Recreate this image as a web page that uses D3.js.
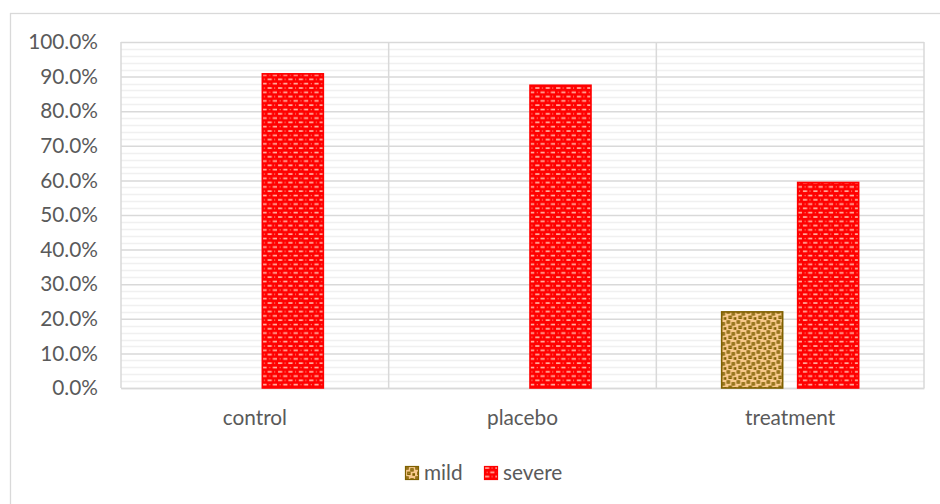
<!DOCTYPE html>
<html>
<head>
<meta charset="utf-8">
<script src="https://cdn.jsdelivr.net/npm/d3@7"></script>
<style>
  html, body { margin: 0; padding: 0; background: #fff; }
  svg { display: block; font-family: Lato, "Open Sans", sans-serif; }
</style>
</head>
<body>
<svg id="chart" width="940" height="504"></svg>
<script>
// Share of each group in the mild / severe class
const categories = ["control", "placebo", "treatment"];
const seriesNames = ["mild", "severe"];
const mildValues = [0, 0, 0.22];
const severeValues = [0.908, 0.875, 0.594];
const yTicks = [0, 0.1, 0.2, 0.3, 0.4, 0.5, 0.6, 0.7, 0.8, 0.9, 1.0];

const svg = d3.select("#chart");
const plot = { left: 121, right: 924, top: 42, bottom: 388 };
const FONT = 20.8;
const TEXT = "#5a5a5a";

// Fill patterns
const defs = svg.append("defs");
const pSevere = defs.append("pattern")
  .attr("id", "pat-severe").attr("patternUnits", "userSpaceOnUse")
  .attr("width", 10.4).attr("height", 8.6);
pSevere.append("rect").attr("width", 10.4).attr("height", 8.6).attr("fill", "#ff0000");
[[1, 1.2, 4.2], [6.2, 5.5, 4.2]].forEach(([x, y, w]) =>
  pSevere.append("rect").attr("x", x).attr("y", y).attr("width", w).attr("height", 1.6)
    .attr("fill", "#ffb8a8"));
[[7.6, 1.4], [2.6, 5.7]].forEach(([x, y]) =>
  pSevere.append("rect").attr("x", x).attr("y", y).attr("width", 1).attr("height", 1.2)
    .attr("fill", "#ff9d8c"));

const pMild = defs.append("pattern")
  .attr("id", "pat-mild").attr("patternUnits", "userSpaceOnUse")
  .attr("width", 10).attr("height", 10);
pMild.append("rect").attr("width", 10).attr("height", 10).attr("fill", "#f8c98c");
[[0.3, 0.3, 3.4], [5.3, 2.2, 3.4], [2.2, 5.6, 3.4], [7.4, 7.2, 2.6]].forEach(([x, y, s]) =>
  pMild.append("rect").attr("x", x).attr("y", y).attr("width", s).attr("height", s)
    .attr("fill", "#7f6000"));
[[1.3, 1.3], [6.3, 3.2], [3.2, 6.6]].forEach(([x, y]) =>
  pMild.append("rect").attr("x", x).attr("y", y).attr("width", 1.4).attr("height", 1.4)
    .attr("fill", "#b08a3a"));

const fills = { mild: "url(#pat-mild)", severe: "url(#pat-severe)" };
const strokes = { mild: "#7f6000", severe: "#ff0000" };

// Outer chart frame
svg.append("rect").attr("x", 10.5).attr("y", 13.5)
  .attr("width", 940).attr("height", 520)
  .attr("fill", "none").attr("stroke", "#d9d9d9").attr("stroke-width", 1.3);

// Scales
const x0 = d3.scaleBand().domain(categories).range([plot.left, plot.right]).padding(0);
const groupW = 137;
const x1 = d3.scaleBand().domain(seriesNames)
  .range([x0.bandwidth() / 2 - groupW / 2, x0.bandwidth() / 2 + groupW / 2])
  .paddingInner(15 / 76).paddingOuter(0);
const y = d3.scaleLinear().domain([0, 1]).range([plot.bottom, plot.top]);

// Minor gridlines every 2%
const minor = d3.range(0, 1.0001, 0.02).filter(v => Math.round(v * 100) % 10 !== 0);
svg.append("g").selectAll("line").data(minor).join("line")
  .attr("x1", plot.left).attr("x2", plot.right)
  .attr("y1", d => Math.round(y(d)) + 0.5).attr("y2", d => Math.round(y(d)) + 0.5)
  .attr("stroke", "#f0f0f0").attr("stroke-width", 1.3);

// Major gridlines and tick labels
const yAxis = d3.axisLeft(y).tickValues(yTicks)
  .tickFormat(d => (d * 100).toFixed(1) + "%")
  .tickSize(-(plot.right - plot.left)).tickPadding(23);
const gy = svg.append("g").attr("transform", `translate(${plot.left},0)`).call(yAxis);
gy.select(".domain").remove();
gy.selectAll(".tick line").attr("stroke", "#d9d9d9").attr("stroke-width", 1.5);
gy.selectAll(".tick text").attr("fill", TEXT).attr("font-size", FONT)
  .attr("font-family", "Lato, sans-serif");

// Category separators and plot frame
const bounds = [plot.left, ...categories.map(c => x0(c) + x0.bandwidth())];
svg.append("g").selectAll("line").data(bounds).join("line")
  .attr("x1", d => d).attr("x2", d => d)
  .attr("y1", plot.top).attr("y2", plot.bottom)
  .attr("stroke", "#d9d9d9").attr("stroke-width", 1.5);

// Category labels
const xAxis = d3.axisBottom(x0).tickSize(0).tickPadding(22);
const gx = svg.append("g").attr("transform", `translate(0,${plot.bottom})`).call(xAxis);
gx.select(".domain").attr("stroke", "#d9d9d9").attr("stroke-width", 1.5);
gx.selectAll(".tick text").attr("fill", TEXT).attr("font-size", FONT)
  .attr("font-family", "Lato, sans-serif");

// Bars
const rows = categories.map((c, i) => ({ cat: c, mild: mildValues[i], severe: severeValues[i] }));
const groups = svg.append("g").selectAll("g").data(rows).join("g")
  .attr("transform", d => `translate(${x0(d.cat)},0)`);
groups.selectAll("rect")
  .data(d => seriesNames.map(s => ({ key: s, value: d[s] })).filter(e => e.value > 0))
  .join("rect")
  .attr("x", d => x1(d.key))
  .attr("y", d => y(d.value))
  .attr("width", x1.bandwidth())
  .attr("height", d => y(0) - y(d.value))
  .attr("fill", d => fills[d.key])
  .attr("stroke", d => strokes[d.key]).attr("stroke-width", 1.6);

// Legend
const legend = svg.append("g").attr("transform", "translate(405,466)");
const legendItems = [{ key: "mild", x: 0 }, { key: "severe", x: 79 }];
const li = legend.selectAll("g").data(legendItems).join("g")
  .attr("transform", d => `translate(${d.x},0)`);
li.append("rect").attr("x", 0.5).attr("y", 0.5).attr("width", 13).attr("height", 13)
  .attr("fill", d => fills[d.key]).attr("stroke", d => strokes[d.key]).attr("stroke-width", 1.2);
li.append("text").attr("x", 19).attr("y", 7).attr("dy", "0.35em")
  .attr("fill", TEXT).attr("font-size", FONT)
  .text(d => d.key);
</script>
</body>
</html>
